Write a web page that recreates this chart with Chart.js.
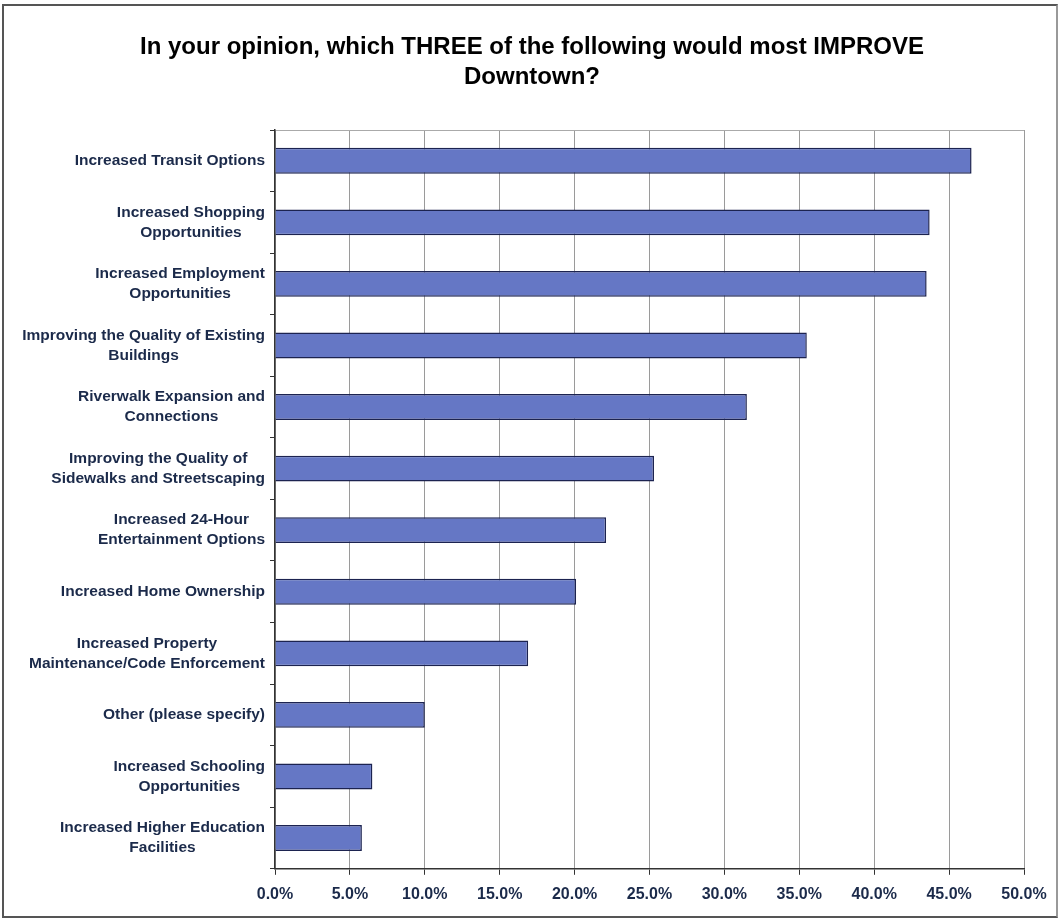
<!DOCTYPE html>
<html>
<head>
<meta charset="utf-8">
<script src="https://cdn.jsdelivr.net/npm/chart.js@4.4.1/dist/chart.umd.min.js"></script>
<style>
  body { margin: 0; background: #fff; }
  #wrap { position: relative; width: 1061px; height: 920px; }
  #frame { position: absolute; left: 2px; top: 4px; width: 1052px; height: 910px;
           border: 2px solid #555; border-right-color: #999; pointer-events: none; }
</style>
</head>
<body>
<div id="wrap">
  <canvas id="chart" width="1061" height="920"></canvas>
  <div id="frame"></div>
</div>
<script>
const categories = [
  "Increased Transit Options",
  ["Increased Shopping", "Opportunities"],
  ["Increased Employment", "Opportunities"],
  ["Improving the Quality of Existing", "Buildings"],
  ["Riverwalk Expansion and", "Connections"],
  ["Improving the Quality of", "Sidewalks and Streetscaping"],
  ["Increased 24-Hour", "Entertainment Options"],
  "Increased Home Ownership",
  ["Increased Property", "Maintenance/Code Enforcement"],
  "Other (please specify)",
  ["Increased Schooling", "Opportunities"],
  ["Increased Higher Education", "Facilities"]
];
const percentages = [46.5, 43.7, 43.5, 35.5, 31.5, 25.3, 22.1, 20.1, 16.9, 10.0, 6.5, 5.8];
const xTicks = [0, 5, 10, 15, 20, 25, 30, 35, 40, 45, 50];

const labelFont = 'bold 15.5px "Liberation Sans", Arial, sans-serif';
const labelColor = '#1b2a4a';

// y labels: widest line right-aligned, other lines centred under it
const yLabelPlugin = {
  id: 'yLabels',
  afterDraw(chart) {
    const y = chart.scales.y;
    const ctx = chart.ctx;
    const right = chart.chartArea.left - 10;
    ctx.save();
    ctx.font = labelFont;
    ctx.fillStyle = labelColor;
    ctx.textAlign = 'center';
    ctx.textBaseline = 'middle';
    categories.forEach((lab, i) => {
      const lines = Array.isArray(lab) ? lab : [lab];
      const widest = Math.max(...lines.map(l => ctx.measureText(l).width));
      const cx = right - widest / 2;
      const cy = y.getPixelForTick(i);
      lines.forEach((l, j) => {
        ctx.fillText(l, cx, cy + (j - (lines.length - 1) / 2) * 20);
      });
    });
    ctx.restore();
  }
};

new Chart(document.getElementById("chart"), {
  type: 'bar',
  data: {
    labels: categories,
    datasets: [{
      data: percentages,
      backgroundColor: '#6577c5',
      borderColor: '#1c2350',
      borderWidth: 1.5,
      borderSkipped: 'start',
      barPercentage: 0.42,
      categoryPercentage: 1
    }]
  },
  options: {
    indexAxis: 'y',
    responsive: false,
    animation: false,
    layout: { padding: { left: 40, right: 37, top: 0, bottom: 6 } },
    plugins: {
      legend: { display: false },
      tooltip: { enabled: false },
      title: {
        display: true,
        text: ["In your opinion, which THREE of the following would most IMPROVE", "Downtown?"],
        color: '#000',
        font: { family: '"Liberation Sans", Arial, sans-serif', size: 24, weight: 'bold', lineHeight: 1.25 },
        padding: { top: 32, bottom: 38 }
      }
    },
    scales: {
      x: {
        min: 0,
        max: 50,
        afterBuildTicks: s => { s.ticks = xTicks.map(v => ({ value: v })); },
        ticks: {
          callback: v => v.toFixed(1) + '%',
          color: labelColor,
          font: { family: '"Liberation Sans", Arial, sans-serif', size: 16, weight: 'bold' },
          padding: 10,
          maxRotation: 0
        },
        grid: { color: '#9a9a9a', lineWidth: 1, tickColor: '#333', tickLength: 6 },
        border: { display: true, color: '#333', width: 1.5 }
      },
      y: {
        ticks: { display: false },
        afterFit: s => { s.width = 235; },
        grid: {
          offset: true,
          color: c => c.index === 0 ? '#aaa' : 'rgba(0,0,0,0)',
          tickColor: '#333',
          tickLength: 5
        },
        border: { display: true, color: '#333', width: 1.5 }
      }
    }
  },
  plugins: [yLabelPlugin]
});
</script>
</body>
</html>
